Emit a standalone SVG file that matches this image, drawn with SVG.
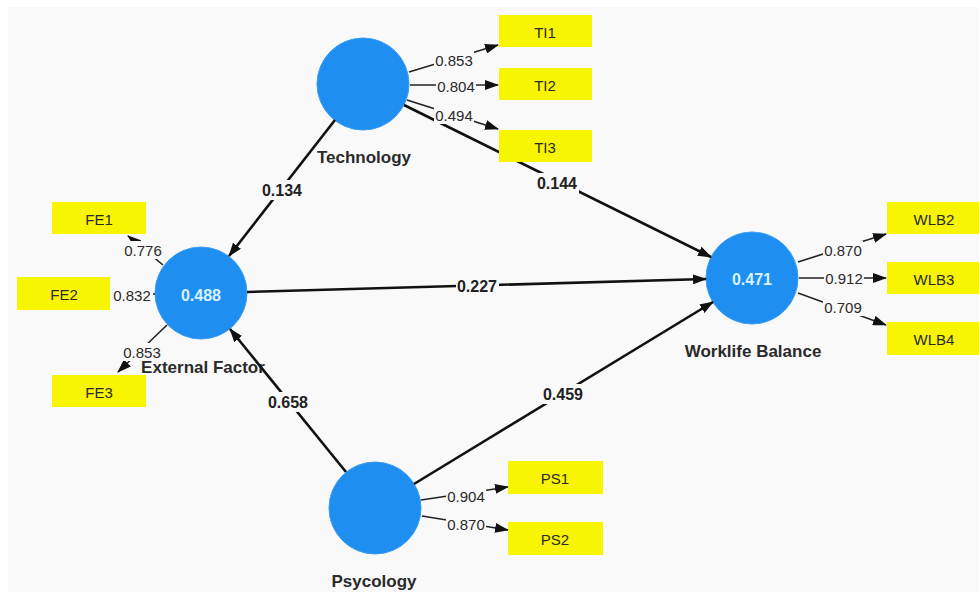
<svg xmlns="http://www.w3.org/2000/svg" width="979" height="592" viewBox="0 0 979 592">
<defs>
<marker id="ah" markerUnits="userSpaceOnUse" markerWidth="14" markerHeight="10" refX="13" refY="5" orient="auto">
<path d="M0,0 L14,5 L0,10 z" fill="#111"/>
</marker>
<style>
.bg{fill:#f9f9f9}
.lv{fill:#1f8ef1;stroke:#3a9cf5;stroke-width:1}
.ind{fill:#f8f500}
.inner{stroke:#111;stroke-width:2.6;fill:none}
.outer{stroke:#222;stroke-width:1.6;fill:none}
.lb{fill:#f9f9f9}
.coef{font-family:"Liberation Sans",Arial,sans-serif;font-size:16px;font-weight:bold;fill:#222;text-anchor:middle;dominant-baseline:central}
.load{font-family:"Liberation Sans",Arial,sans-serif;font-size:15px;fill:#2a2a2a;text-anchor:middle;dominant-baseline:central}
.name{font-family:"Liberation Sans",Arial,sans-serif;font-size:17px;font-weight:bold;fill:#2a2a2a;text-anchor:middle}
.r2{font-family:"Liberation Sans",Arial,sans-serif;font-size:16px;font-weight:bold;fill:#d8f2ff;text-anchor:middle;dominant-baseline:central}
.it{font-family:"Liberation Sans",Arial,sans-serif;font-size:15px;fill:#2a2a2a;text-anchor:middle;dominant-baseline:central}
</style>
</defs>
<rect width="979" height="592" fill="#ffffff"/>
<rect x="8" y="7" width="971" height="585" class="bg"/>

<g id="node-technology">
<circle cx="363" cy="84" r="46" class="lv"/>
<text x="364" y="163" class="name">Technology</text>
</g>
<g id="node-external-factor">
<circle cx="201" cy="293" r="46" class="lv"/>
<text x="201" y="295" class="r2">0.488</text>
<text x="203" y="373" class="name">External Factor</text>
</g>
<g id="node-worklife-balance">
<circle cx="752" cy="278" r="46" class="lv"/>
<text x="752" y="279" class="r2">0.471</text>
<text x="753" y="357" class="name">Worklife Balance</text>
</g>
<g id="node-psycology">
<circle cx="375" cy="508" r="46" class="lv"/>
<text x="374" y="587" class="name">Psycology</text>
</g>

<g id="connectors">
<!-- inner model -->
<line x1="335" y1="120" x2="229" y2="256" class="inner" marker-end="url(#ah)"/>
<line x1="404" y1="105" x2="711" y2="257" class="inner" marker-end="url(#ah)"/>
<line x1="247" y1="292" x2="706" y2="279" class="inner" marker-end="url(#ah)"/>
<line x1="346" y1="472" x2="230" y2="329" class="inner" marker-end="url(#ah)"/>
<line x1="414" y1="484" x2="713" y2="302" class="inner" marker-end="url(#ah)"/>
<!-- outer model -->
<line x1="409" y1="72" x2="498" y2="45" class="outer" marker-end="url(#ah)"/>
<line x1="410" y1="85" x2="498" y2="85" class="outer" marker-end="url(#ah)"/>
<line x1="407" y1="100" x2="498" y2="129" class="outer" marker-end="url(#ah)"/>
<line x1="163" y1="265" x2="128" y2="236" class="outer" marker-end="url(#ah)"/>
<line x1="155" y1="294" x2="109" y2="294" class="outer" marker-end="url(#ah)"/>
<line x1="167" y1="325" x2="118" y2="372" class="outer" marker-end="url(#ah)"/>
<line x1="798" y1="262" x2="886" y2="234" class="outer" marker-end="url(#ah)"/>
<line x1="799" y1="278" x2="886" y2="278" class="outer" marker-end="url(#ah)"/>
<line x1="798" y1="293" x2="886" y2="325" class="outer" marker-end="url(#ah)"/>
<line x1="421" y1="500" x2="508" y2="487" class="outer" marker-end="url(#ah)"/>
<line x1="422" y1="516" x2="508" y2="530" class="outer" marker-end="url(#ah)"/>
<!-- inner labels -->
<rect x="261" y="180" width="43" height="20" class="lb"/><text x="282" y="190" class="coef">0.134</text>
<rect x="536" y="173" width="43" height="20" class="lb"/><text x="557" y="183" class="coef">0.144</text>
<rect x="456" y="276" width="43" height="20" class="lb"/><text x="477" y="286" class="coef">0.227</text>
<rect x="267" y="392" width="43" height="20" class="lb"/><text x="288" y="402" class="coef">0.658</text>
<rect x="542" y="384" width="43" height="20" class="lb"/><text x="563" y="394" class="coef">0.459</text>
<!-- outer labels -->
<rect x="434" y="51" width="40" height="18" class="lb"/><text x="454" y="60" class="load">0.853</text>
<rect x="436" y="77" width="40" height="18" class="lb"/><text x="456" y="86" class="load">0.804</text>
<rect x="434" y="106" width="40" height="18" class="lb"/><text x="454" y="115" class="load">0.494</text>
<rect x="123" y="241" width="40" height="18" class="lb"/><text x="143" y="250" class="load">0.776</text>
<rect x="110" y="286" width="43" height="18" class="lb"/><text x="132" y="295" class="load">0.832</text>
<rect x="122" y="343" width="40" height="18" class="lb"/><text x="142" y="352" class="load">0.853</text>
<rect x="823" y="241" width="40" height="18" class="lb"/><text x="843" y="250" class="load">0.870</text>
<rect x="824" y="269" width="40" height="18" class="lb"/><text x="844" y="278" class="load">0.912</text>
<rect x="823" y="298" width="40" height="18" class="lb"/><text x="843" y="307" class="load">0.709</text>
<rect x="446" y="487" width="40" height="18" class="lb"/><text x="466" y="496" class="load">0.904</text>
<rect x="446" y="515" width="40" height="18" class="lb"/><text x="466" y="524" class="load">0.870</text>
</g>

<g id="node-TI1"><rect x="499" y="15" width="93" height="32" class="ind"/><text x="545" y="32" class="it">TI1</text></g>
<g id="node-TI2"><rect x="499" y="68" width="93" height="32" class="ind"/><text x="545" y="85" class="it">TI2</text></g>
<g id="node-TI3"><rect x="499" y="130" width="93" height="32" class="ind"/><text x="545" y="147" class="it">TI3</text></g>
<g id="node-FE1"><rect x="52" y="202" width="94" height="32" class="ind"/><text x="99" y="219" class="it">FE1</text></g>
<g id="node-FE2"><rect x="17" y="277" width="93" height="33" class="ind"/><text x="64" y="294" class="it">FE2</text></g>
<g id="node-FE3"><rect x="52" y="375" width="94" height="32" class="ind"/><text x="99" y="392" class="it">FE3</text></g>
<g id="node-WLB2"><rect x="887" y="202" width="94" height="32" class="ind"/><text x="934" y="219" class="it">WLB2</text></g>
<g id="node-WLB3"><rect x="887" y="262" width="94" height="32" class="ind"/><text x="934" y="279" class="it">WLB3</text></g>
<g id="node-WLB4"><rect x="887" y="322" width="94" height="33" class="ind"/><text x="934" y="339" class="it">WLB4</text></g>
<g id="node-PS1"><rect x="508" y="461" width="95" height="33" class="ind"/><text x="555" y="478" class="it">PS1</text></g>
<g id="node-PS2"><rect x="508" y="522" width="95" height="33" class="ind"/><text x="555" y="539" class="it">PS2</text></g>
</svg>
